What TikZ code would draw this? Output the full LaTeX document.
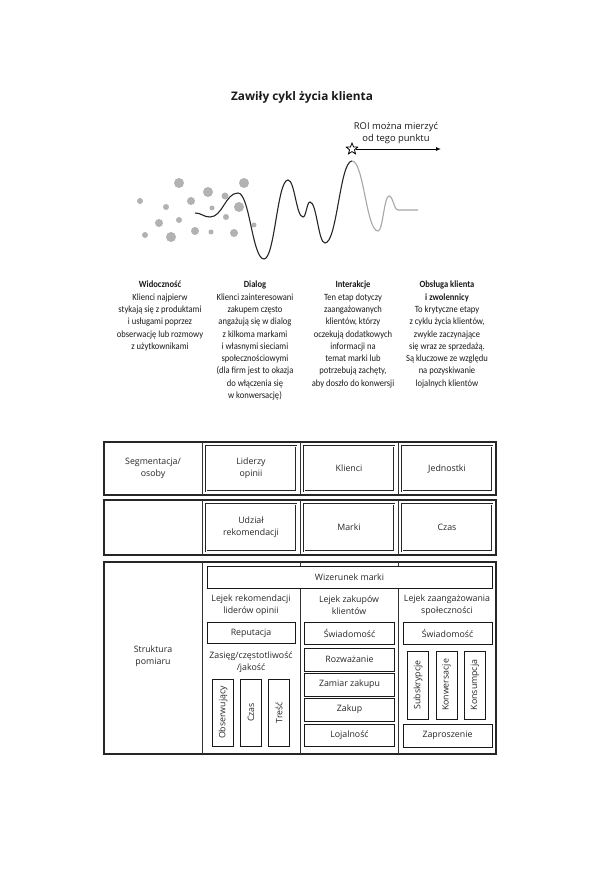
\documentclass[tikz,border=0pt]{standalone}
\usepackage{fontspec}
\setmainfont{Open Sans}
\newfontfamily\narrowfont[FakeStretch=0.9]{Carlito}
\usetikzlibrary{shapes.geometric,arrows.meta}

\tikzset{
  dot/.style={fill=black!30},
  stagetext/.style={align=center, inner sep=0pt, anchor=north, text=black!90,
    font=\narrowfont\fontsize{9.5}{12.3}\selectfont},
  rowframe/.style={draw=black!85, line width=1.1pt},
  celltext/.style={align=center, inner sep=0pt, text=black!85,
    font=\fontsize{8.8}{12}\selectfont},
  cellbox/.style={celltext, draw=black!85, line width=0.6pt, double=white, double distance=0.7pt},
  funnelbox/.style={celltext, draw=black!90, line width=1pt},
  upbox/.style={funnelbox, rotate=90, minimum width=67, minimum height=21},
}

\begin{document}
\begin{tikzpicture}[x=1pt, y=-1pt]
  \useasboundingbox (0,0) rectangle (596,885);

  % Title
  \node[font=\bfseries\fontsize{11.8}{14}\selectfont, text=black!90] (title) at (302,97) {Zawiły cykl życia klienta};

  % Scattered dots
  \foreach \x/\y/\r in {179/183/5, 208/192/5, 244/183/5, 225/196/3.5, 191/201/4,
                        239/207/5, 140/201/3, 166/207/3, 212/208/2.5, 226/217/3,
                        179/220/3, 159/223/4, 254/225/2.5, 195/231/4, 211/232/2.5,
                        234/233/4, 171/237/5, 145/235/3}{
    \fill[dot] (\x,\y) circle (\r pt);
  }

  % Wave, black part
  \draw[black!85, line width=1.1pt]
    (195,213) .. controls (201.75,213) and (203.25,217) .. (210,217)
              .. controls (222.6,217) and (225.4,193) .. (238,193)
              .. controls (249.7,193) and (252.3,259) .. (264,259)
              .. controls (274.8,259) and (277.2,180) .. (288,180)
              .. controls (294.75,180) and (296.25,217) .. (303,217)
              .. controls (306.15,217) and (306.85,202) .. (310,202)
              .. controls (316.75,202) and (318.25,243) .. (325,243)
              .. controls (337.15,243) and (339.85,161) .. (352,161);
  % Wave, grey part
  \draw[black!35, line width=1.1pt]
    (352,161) .. controls (363.7,161) and (366.3,231) .. (378,231)
              .. controls (382.95,231) and (384.05,196) .. (389,196)
              .. controls (393.05,196) and (393.95,210) .. (398,210)
              -- (418,210);

  % ROI marker
  \node[font=\fontsize{9.4}{12}\selectfont, align=center, text=black!90] (roi) at (396,133) {ROI można mierzyć\\od tego punktu};
  \node[star, star points=5, star point ratio=2.3, draw, fill=white, line width=0.8pt,
        minimum size=12pt, inner sep=0pt] (star) at (352,149) {};
  \coordinate (roiend) at (441,149);
  \draw[-{Latex[length=5pt,width=4pt]}, line width=0.9pt] (star.east) -- (roiend);

  % Stages
  \node[stagetext] (widocznosc) at (160,281) {\textbf{Widoczność}\\
    Klienci najpierw\\stykają się z produktami\\i usługami poprzez\\obserwację lub rozmowy\\z użytkownikami};
  \node[stagetext] (dialog) at (255,281) {\textbf{Dialog}\\
    Klienci zainteresowani\\zakupem często\\angażują się w dialog\\z kilkoma markami\\i własnymi sieciami\\społecznościowymi\\(dla firm jest to okazja\\do włączenia się\\w konwersację)};
  \node[stagetext] (interakcje) at (353,281) {\textbf{Interakcje}\\
    Ten etap dotyczy\\zaangażowanych\\klientów, którzy\\oczekują dodatkowych\\informacji na\\temat marki lub\\potrzebują zachęty,\\aby doszło do konwersji};
  \node[stagetext] (obsluga) at (447,281) {\textbf{Obsługa klienta}\\\textbf{i zwolennicy}\\
    To krytyczne etapy\\z cyklu życia klientów,\\zwykle zaczynające\\się wraz ze sprzedażą.\\Są kluczowe ze względu\\na pozyskiwanie\\lojalnych klientów};

  % Row 1: segmentation
  \draw[rowframe] (104,442) rectangle (496,495);
  \foreach \x in {202,300,398}{
    \draw[black!80, line width=0.7pt] (\x,442) -- (\x,495);
  }
  \node[celltext] (segm) at (153,468) {Segmentacja/\\osoby};
  \node[cellbox, minimum width=90, minimum height=45] (liderzy) at (251,468.5) {Liderzy\\opinii};
  \node[cellbox, minimum width=90, minimum height=45] (klienci) at (349,468.5) {Klienci};
  \node[cellbox, minimum width=90, minimum height=45] (jednostki) at (447,468.5) {Jednostki};

  % Row 2
  \draw[rowframe] (104,500) rectangle (496,555);
  \foreach \x in {202,300,398}{
    \draw[black!80, line width=0.7pt] (\x,500) -- (\x,555);
  }
  \node[cellbox, minimum width=90, minimum height=47] (udzial) at (251,527.5) {Udział\\rekomendacji};
  \node[cellbox, minimum width=90, minimum height=47] (marki) at (349,527.5) {Marki};
  \node[cellbox, minimum width=90, minimum height=47] (czas) at (447,527.5) {Czas};

  % Row 3: measurement
  \draw[rowframe] (104,562) rectangle (496,754);
  \draw[black!80, line width=0.8pt] (202,562) -- (202,754);
  \foreach \x in {300,398}{
    \draw[black!80, line width=0.8pt] (\x,562) -- (\x,566);
    \draw[black!80, line width=0.8pt] (\x,588) -- (\x,754);
  }
  \node[celltext] (struktura) at (153,656) {Struktura\\pomiaru};
  \node[funnelbox, minimum width=285, minimum height=22] (wizerunek) at (349.5,577) {Wizerunek marki};

  % Opinion leaders funnel
  \node[celltext] (lejek1) at (251,605) {Lejek rekomendacji\\liderów opinii};
  \node[funnelbox, minimum width=88, minimum height=21] (reputacja) at (251,633) {Reputacja};
  \node[celltext] (zasieg) at (251,662.5) {Zasięg/częstotliwość\\/jakość};
  \node[upbox] (obserwujacy) at (223,712.5) {Obserwujący};
  \node[upbox] (czas2) at (251,712.5) {Czas};
  \node[upbox] (tresc) at (279,712.5) {Treść};

  % Purchase funnel
  \node[celltext] (lejek2) at (349,605) {Lejek zakupów\\klientów};
  \node[funnelbox, minimum width=90, minimum height=22] (swiad1) at (349.5,633) {Świadomość};
  \node[funnelbox, minimum width=90, minimum height=23] (rozwazanie) at (349.5,659.5) {Rozważanie};
  \node[funnelbox, minimum width=90, minimum height=23] (zamiar) at (349.5,684.5) {Zamiar zakupu};
  \node[funnelbox, minimum width=90, minimum height=23] (zakup) at (349.5,709.5) {Zakup};
  \node[funnelbox, minimum width=90, minimum height=22] (lojalnosc) at (349.5,735) {Lojalność};

  % Community funnel
  \node[celltext] (lejek3) at (447,605) {Lejek zaangażowania\\społeczności};
  \node[funnelbox, minimum width=89, minimum height=22] (swiad2) at (447.5,633) {Świadomość};
  \node[upbox, minimum width=68] (subskrypcje) at (418,685) {Subskrypcje};
  \node[upbox, minimum width=68] (konwersacje) at (446.5,685) {Konwersacje};
  \node[upbox, minimum width=68] (konsumpcja) at (475,685) {Konsumpcja};
  \node[funnelbox, minimum width=89, minimum height=23] (zaproszenie) at (447.5,735.5) {Zaproszenie};

\end{tikzpicture}
\end{document}
